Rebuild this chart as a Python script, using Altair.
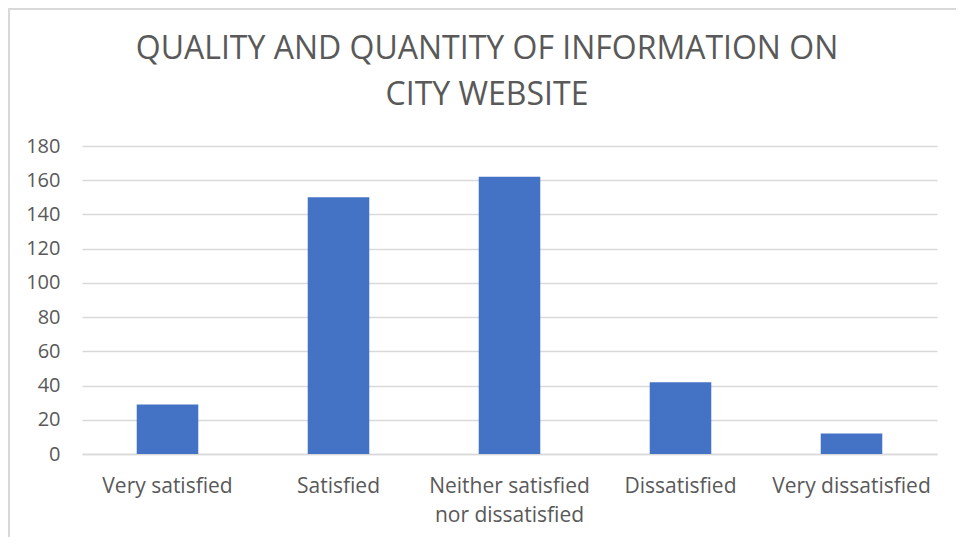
import altair as alt
import pandas as pd

categories = ["Very satisfied", "Satisfied", "Neither satisfied nor dissatisfied",
              "Dissatisfied", "Very dissatisfied"]
counts = [29, 150, 162, 42, 12]
y_ticks = [0, 20, 40, 60, 80, 100, 120, 140, 160, 180]
title_lines = ["QUALITY AND QUANTITY OF INFORMATION ON", "CITY WEBSITE"]

df = pd.DataFrame({"category": categories, "count": counts})
title_df = pd.DataFrame({"line": title_lines, "row": [0, 1]})

FONT = "Open Sans"
GREY = "#595959"

label_expr = ("datum.label == 'Neither satisfied nor dissatisfied' ? "
              "['Neither satisfied', 'nor dissatisfied'] : datum.label")

bars = alt.Chart(df).mark_bar(color="#4472C4").encode(
    x=alt.X("category:N", sort=categories,
            scale=alt.Scale(paddingInner=0.64, paddingOuter=0.32),
            axis=alt.Axis(title=None, labelAngle=0, labelExpr=label_expr,
                          labelFont=FONT, labelFontSize=21, labelColor=GREY,
                          labelPadding=21, labelLineHeight=29,
                          ticks=False, domain=True, domainColor="#D9D9D9",
                          domainWidth=1.5)),
    y=alt.Y("count:Q", scale=alt.Scale(domain=[0, 180], nice=False),
            axis=alt.Axis(title=None, values=y_ticks, labelFont=FONT,
                          labelFontSize=20, labelColor=GREY, labelPadding=22,
                          ticks=False, domain=False, gridColor="#D9D9D9",
                          gridWidth=1.5)),
)

title1 = alt.Chart(title_df).transform_filter("datum.row == 0").mark_text(
    font=FONT, fontSize=32, color=GREY, align="center", baseline="middle"
).encode(text="line:N", x=alt.value(405), y=alt.value(-97))
title2 = alt.Chart(title_df).transform_filter("datum.row == 1").mark_text(
    font=FONT, fontSize=32, color=GREY, align="center", baseline="middle"
).encode(text="line:N", x=alt.value(405), y=alt.value(-51))

border = alt.Chart(df).mark_rule(color="#D9D9D9", strokeWidth=2, clip=False).encode(
    x=alt.value(-73), x2=alt.value(-73), y=alt.value(-138), y2=alt.value(400)
)
border_top = alt.Chart(df).mark_rule(color="#D9D9D9", strokeWidth=2, clip=False).encode(
    x=alt.value(-73), x2=alt.value(900), y=alt.value(-137), y2=alt.value(-137)
)

chart = alt.layer(bars, title1, title2, border, border_top).properties(
    width=855,
    height=308,
    autosize=alt.AutoSizeParams(type="none"),
    padding={"left": 74, "top": 138, "right": 19, "bottom": 83},
).configure_view(stroke=None)

chart.save("out.html", embed_options={"renderer": "svg", "actions": False})
